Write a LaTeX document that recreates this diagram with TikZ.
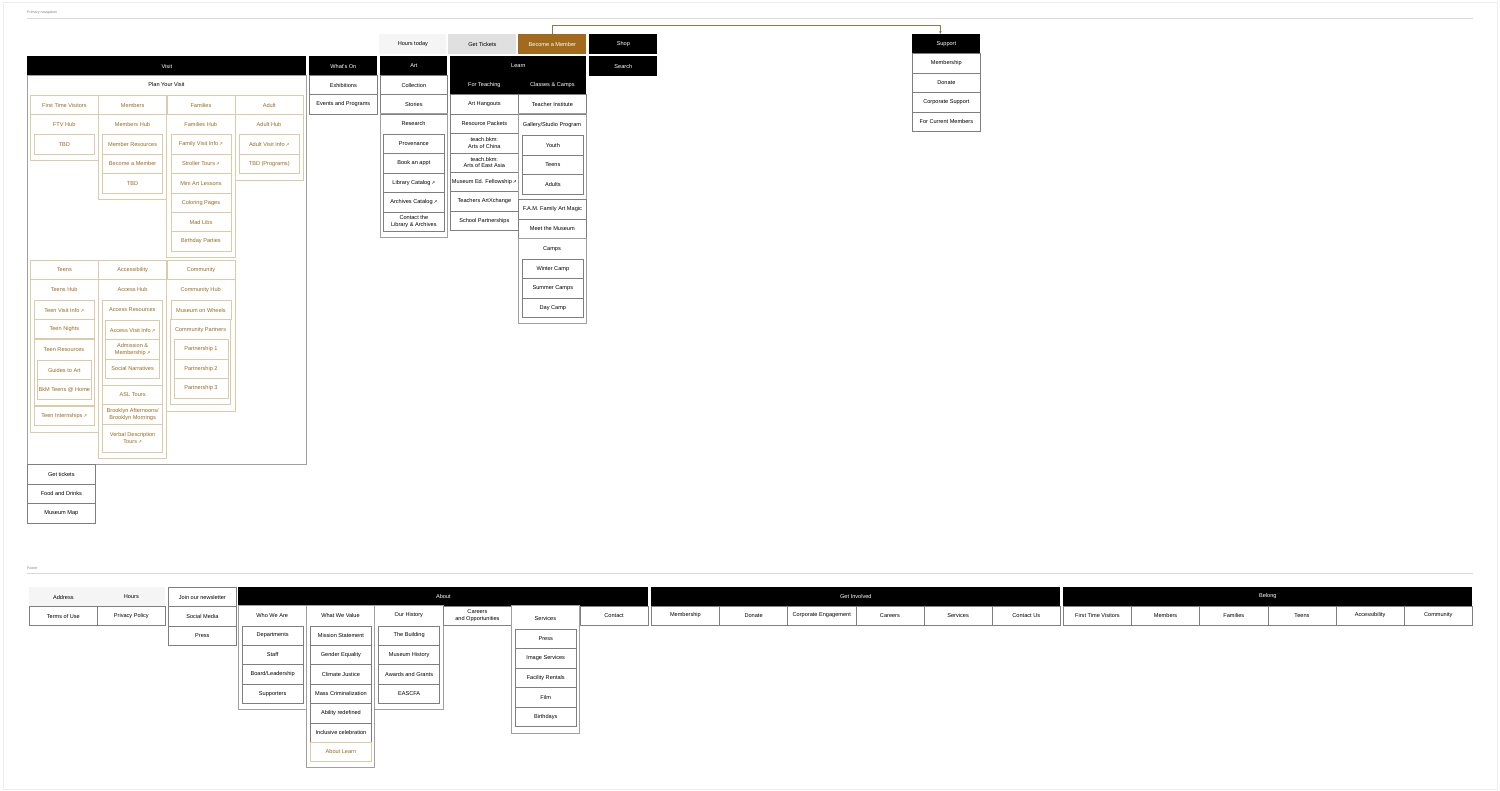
\documentclass[tikz,border=0pt]{standalone}
\usepackage{fontspec}
\usepackage{tikz}
\usetikzlibrary{arrows.meta}
\newfontfamily\navfont{Liberation Sans}
\newfontfamily\symfont{DejaVu Sans}
\newcommand{\navsize}{\navfont\fontsize{5.6pt}{6.6pt}\selectfont}
\newcommand{\outlink}{\,{\symfont\fontsize{4.6pt}{5pt}\selectfont\char"2197}}
\definecolor{visbrown}{HTML}{9A6A1E}
\definecolor{visline}{HTML}{DCCBA9}
\definecolor{boxgray}{HTML}{7F7F7F}
\definecolor{framegray}{HTML}{A0A0A0}
\definecolor{memberbrown}{HTML}{A26A1C}
\definecolor{linkbrown}{HTML}{8E7A48}
\tikzset{
  box/.style={draw=boxgray, fill=white, line width=0.7pt, anchor=north west, inner sep=0pt,
    minimum width=68pt, minimum height=19.4pt, align=center, font=\navsize},
  subbox/.style={box, minimum width=61pt},
  subsubbox/.style={box, minimum width=54pt},
  navbar/.style={box, draw=none, fill=black, text=white},
  visbox/.style={box, draw=visline, text=visbrown},
  vsub/.style={visbox, minimum width=60pt},
  vsubsub/.style={visbox, minimum width=54pt},
  hub/.style={font=\navsize, inner sep=0pt},
  vhub/.style={hub, text=visbrown},
  group/.style={draw=framegray, line width=0.7pt},
  vgroup/.style={draw=visline, line width=0.7pt},
  toplabel/.style={font={\navfont\fontsize{3.6pt}{4pt}\selectfont}, text=gray, anchor=west, inner sep=0pt},
  link/.style={draw=linkbrown, line width=0.7pt, -{Stealth[length=3pt,width=2.6pt]}}
}
\begin{document}
\begin{tikzpicture}[x=1pt,y=-1pt]
\useasboundingbox (0,0) rectangle (1500,791);
\draw[black!7] (3,2) rectangle (1497,789);
% primary navigation
\node[toplabel] (navlabel) at (27,13) {Primary navigation};
\draw[black!15] (27,18) -- (1473,18);
\node[box, draw=none, fill=black!4, minimum width=67pt] (hours) at (379,34) {Hours today};
\node[box, draw=none, fill=black!12] (tickets) at (448,34) {Get Tickets};
\node[navbar, fill=memberbrown] (member) at (518,34) {Become a Member};
\node[navbar] (shop) at (589,34) {Shop};
\node[navbar] (support) at (912,34) {Support};
\foreach \lbl [count=\i from 0] in {Membership, Donate, Corporate Support, For Current Members}
  \node[box] (support-\i) at (912,{53.4+\i*19.4}) {\lbl};
\coordinate (support-in) at ([xshift=-6pt]support.north);
\draw[link] (member.north) -- ++(0,-9) -| (support-in);
\node[navbar, minimum width=279pt] (visit) at (27,56) {Visit};
\node[navbar] (whatson) at (309,56) {What's On};
\node[navbar, minimum width=67pt] (art) at (380,56) {Art};
\node[navbar, minimum width=136pt] (learn) at (450,56) {Learn};
\node[navbar] (search) at (589,56) {Search};
% visit
\draw[group] (27,75) rectangle (306,464.5);
\node[hub] (plan) at (166.5,85) {Plan Your Visit};
\draw[vgroup] (30,95) rectangle (98.3,160);
\node[visbox] (ftv) at (30,95) {First Time Visitors};
\node[vhub] (ftv-hub) at (64.2,124.5) {FTV Hub};
\node[vsub] (ftv-0) at (34,134.5) {TBD};
\draw[vgroup] (98.3,95) rectangle (166.6,199);
\node[visbox] (mem) at (98.3,95) {Members};
\node[vhub] (mem-hub) at (132.5,124.5) {Members Hub};
\foreach \lbl [count=\i from 0] in {Member Resources, Become a Member, TBD}
  \node[vsub] (mem-\i) at (102.3,{134.5+\i*19.4}) {\lbl};
\draw[vgroup] (166.6,95) rectangle (234.9,257.5);
\node[visbox] (fam) at (166.6,95) {Families};
\node[vhub] (fam-hub) at (200.7,124.5) {Families Hub};
\foreach \lbl [count=\i from 0] in {{Family Visit Info\outlink}, {Stroller Tours\outlink}, Mini Art Lessons, Coloring Pages, Mad Libs, Birthday Parties}
  \node[vsub] (fam-\i) at (170.6,{134.5+\i*19.4}) {\lbl};
\draw[vgroup] (234.9,95) rectangle (303.2,180);
\node[visbox] (adult) at (234.9,95) {Adult};
\node[vhub] (adult-hub) at (269,124.5) {Adult Hub};
\foreach \lbl [count=\i from 0] in {{Adult Visit Info\outlink}, {TBD (Programs)}}
  \node[vsub] (adult-\i) at (238.9,{134.5+\i*19.4}) {\lbl};
% teens
\draw[vgroup] (30,260) rectangle (98.3,432.5);
\node[visbox] (teen) at (30,260) {Teens};
\node[vhub] (teen-hub) at (64.2,290) {Teens Hub};
\node[vsub] (teen-0) at (34,300) {Teen Visit Info\outlink};
\node[vsub] (teen-1) at (34,319.4) {Teen Nights};
\draw[vgroup] (34,338.8) rectangle (94,405.8);
\node[vhub] (teen-res) at (64,350) {Teen Resources};
\foreach \lbl [count=\i from 0] in {Guides to Art, BkM Teens @ Home}
  \node[vsubsub] (teen-res-\i) at (37,{360+\i*19.4}) {\lbl};
\node[vsub] (teen-2) at (34,405.8) {Teen Internships\outlink};
% accessibility
\draw[vgroup] (98.3,260) rectangle (166.6,458);
\node[visbox] (acc) at (98.3,260) {Accessibility};
\node[vhub] (acc-hub) at (132.5,290) {Access Hub};
\draw[vgroup] (102.3,300) rectangle (162.3,385);
\node[vhub] (acc-res) at (132.3,310) {Access Resources};
\foreach \lbl [count=\i from 0] in {{Access Visit Info\outlink}, {Admission \&\\Membership\outlink}, Social Narratives}
  \node[vsubsub] (acc-res-\i) at (105.3,{320+\i*19.4}) {\lbl};
\node[vsub] (acc-0) at (102.3,385) {ASL Tours};
\node[vsub] (acc-1) at (102.3,404.4) {Brooklyn Afternoons/\\Brooklyn Mornings};
\node[vsub, minimum height=28pt] (acc-2) at (102.3,423.8) {Verbal Description\\Tours\outlink};
% community
\draw[vgroup] (166.6,260) rectangle (234.9,411.5);
\node[visbox] (com) at (166.6,260) {Community};
\node[vhub] (com-hub) at (200.7,290) {Community Hub};
\node[vsub] (com-0) at (170.6,300) {Museum on Wheels};
\draw[vgroup] (170.6,319.4) rectangle (230.6,404);
\node[vhub] (com-part) at (200.6,330) {Community Partners};
\foreach \i in {1,2,3}
  \node[vsubsub] (com-part-\i) at (173.6,{339.5+(\i-1)*19.4}) {Partnership \i};
\foreach \lbl [count=\i from 0] in {Get tickets, Food and Drinks, Museum Map}
  \node[box] (visit-\i) at (27,{464.5+\i*19.4}) {\lbl};
% what's on, art
\node[box] (whatson-0) at (309,75) {Exhibitions};
\node[box] (whatson-1) at (309,94.4) {Events and Programs};
\node[box, minimum width=67pt] (art-0) at (380,75) {Collection};
\node[box, minimum width=67pt] (art-1) at (380,94.4) {Stories};
\draw[group] (380,113.8) rectangle (447,237);
\node[hub] (research) at (413.5,124) {Research};
\foreach \lbl [count=\i from 0] in {Provenance, Book an appt, {Library Catalog\outlink}, {Archives Catalog\outlink}, {Contact the\\Library \& Archives}}
  \node[subbox] (research-\i) at (383,{134+\i*19.4}) {\lbl};
% learn
\node[navbar] (teaching) at (450,75) {For Teaching};
\node[navbar] (classes) at (518,75) {Classes \& Camps};
\foreach \lbl [count=\i from 0] in {Art Hangouts, Resource Packets, {teach.bkm:\\Arts of China}, {teach.bkm:\\Arts of East Asia}, {Museum Ed. Fellowship\outlink}, Teachers ArtXchange, School Partnerships}
  \node[box] (teaching-\i) at (450,{94.4+\i*19.4}) {\lbl};
\node[box] (classes-0) at (518,94.4) {Teacher Institute};
\draw[group] (518,113.8) rectangle (586,199.5);
\node[hub] (studio) at (552,125.5) {Gallery/Studio Program};
\foreach \lbl [count=\i from 0] in {Youth, Teens, Adults}
  \node[subbox] (studio-\i) at (522,{135.5+\i*19.4}) {\lbl};
\node[box] (classes-1) at (518,199.5) {F.A.M. Family Art Magic};
\node[box] (classes-2) at (518,218.9) {Meet the Museum};
\draw[group] (518,238.3) rectangle (586,323);
\node[hub] (camps) at (552,249) {Camps};
\foreach \lbl [count=\i from 0] in {Winter Camp, Summer Camps, Day Camp}
  \node[subbox] (camps-\i) at (522,{259+\i*19.4}) {\lbl};
% footer
\node[toplabel] (footlabel) at (27,568) {Footer};
\draw[black!15] (27,573) -- (1473,573);
\node[box, draw=none, fill=black!4] (address) at (29,587) {Address};
\node[box, draw=none, fill=black!4] (hours-f) at (97,587) {Hours};
\node[box] (terms) at (29,606) {Terms of Use};
\node[box] (privacy) at (97,606) {Privacy Policy};
\foreach \lbl [count=\i from 0] in {Join our newsletter, Social Media, Press}
  \node[box] (news-\i) at (168,{587+\i*19.4}) {\lbl};
\node[navbar, minimum width=410pt] (about) at (238,586.5) {About};
\draw[group] (238,605.5) rectangle (306.3,709);
\node[hub] (who) at (272.2,615.5) {Who We Are};
\foreach \lbl [count=\i from 0] in {Departments, Staff, Board/Leadership, Supporters}
  \node[subbox] (who-\i) at (241.8,{625.5+\i*19.4}) {\lbl};
\draw[group] (306.3,605.5) rectangle (374.6,767);
\node[hub] (value) at (340.5,615.5) {What We Value};
\foreach \lbl [count=\i from 0] in {Mission Statement, Gender Equality, Climate Justice, Mass Criminalization, Ability redefined, Inclusive celebration}
  \node[subbox] (value-\i) at (310.1,{625.5+\i*19.4}) {\lbl};
\node[visbox, minimum width=61pt] (value-6) at (310.1,741.9) {About Learn};
\draw[group] (374.6,605.5) rectangle (443,709);
\node[hub] (history) at (408.8,615.5) {Our History};
\foreach \lbl [count=\i from 0] in {The Building, Museum History, Awards and Grants, EASCFA}
  \node[subbox] (history-\i) at (378.3,{625.5+\i*19.4}) {\lbl};
\node[box, minimum width=68.2pt] (careers) at (443,605.5) {Careers\\and Opportunities};
\draw[group] (511.2,605.5) rectangle (579.5,733);
\node[hub] (services) at (545.4,618) {Services};
\foreach \lbl [count=\i from 0] in {Press, Image Services, Facility Rentals, Film, Birthdays}
  \node[subbox] (services-\i) at (514.9,{629+\i*19.4}) {\lbl};
\node[box, minimum width=68.5pt] (contact) at (579.5,605.5) {Contact};
\node[navbar, minimum width=409pt] (involved) at (651,586.5) {Get Involved};
\foreach \lbl [count=\i from 0] in {Membership, Donate, Corporate Engagement, Careers, Services, Contact Us}
  \node[box, minimum width=68.17pt] (involved-\i) at ({651+\i*68.17},605.5) {\lbl};
\node[navbar, minimum width=409pt] (belong) at (1063,586.5) {Belong};
\foreach \lbl [count=\i from 0] in {First Time Visitors, Members, Families, Teens, Accessibility, Community}
  \node[box, minimum width=68.17pt] (belong-\i) at ({1063+\i*68.17},605.5) {\lbl};
\end{tikzpicture}
\end{document}
